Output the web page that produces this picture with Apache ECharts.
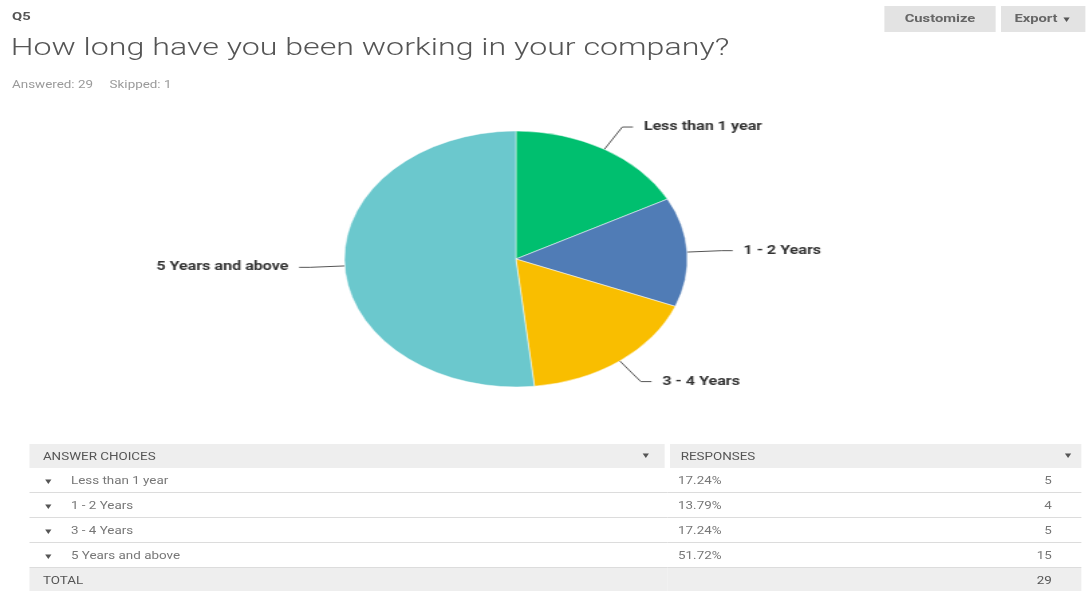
<!DOCTYPE html>
<html>
<head>
<meta charset="utf-8">
<script src="https://cdn.jsdelivr.net/npm/echarts@6/dist/echarts.min.js"></script>
<style>
  html, body { margin: 0; padding: 0; background: #fff; overflow: hidden; }
  body { width: 1086px; height: 591px; font-family: Roboto, "Open Sans", Arial, sans-serif; }
  /* the reference screenshot is stretched sideways, so the whole page is too */
  #page { position: absolute; left: 0; top: 0; width: 810px; height: 591px; transform: scaleX(1.34); transform-origin: 0 0; }
  .abs { position: absolute; white-space: nowrap; }
  #qnum { left: 9px; top: 10px; font-size: 11px; font-weight: bold; color: #555; }
  #title { left: 8px; top: 33px; font-size: 24px; font-weight: 300; color: #555; }
  #meta { left: 9px; top: 79px; font-size: 10px; color: #9a9a9a; }
  .btn { top: 6px; height: 26px; line-height: 26px; background: #e3e3e3; color: #666; font-size: 11px; font-weight: bold; text-align: center; }
  #pie { position: absolute; left: 0; top: 100px; width: 810px; height: 330px; }
  #tbl { position: absolute; left: 22px; top: 444px; width: 785px; border-collapse: collapse; font-size: 10px; color: #777; }
  #tbl td { height: 24px; padding: 0; border-bottom: 1px solid #dcdcdc; }
  #tbl tr.hd td, #tbl tr.ft td { background: #eeeeee; color: #555; border-bottom: none; }
  #tbl tr.hd td { border-right: 4px solid #fff; }
  #tbl tr.hd td:last-child { border-right: none; }
  .car { font-size: 8px; color: #555; }
</style>
</head>
<body>
<div id="page">
  <div id="qnum" class="abs">Q5</div>
  <div id="title" class="abs">How long have you been working in your company?</div>
  <div id="meta" class="abs">Answered: 29&nbsp;&nbsp;&nbsp;&nbsp;&nbsp;Skipped: 1</div>
  <div class="abs btn" style="left:660px;width:83px;">Customize</div>
  <div class="abs btn" style="left:747px;width:63px;">Export <span class="car">&#9660;</span></div>
  <div id="pie"></div>
  <table id="tbl"></table>
</div>
<script>
const choices = ['Less than 1 year', '1 - 2 Years', '3 - 4 Years', '5 Years and above'];
const counts = [5, 4, 5, 15];
const percents = ['17.24%', '13.79%', '17.24%', '51.72%'];
const total = 29;
const colors = ['#00bf6f', '#507cb6', '#f9be00', '#6bc8cd'];

// table under the pie
let rows = '<tr class="hd"><td style="width:464px;padding-left:10px;">ANSWER CHOICES' +
  '<span class="car" style="float:right;margin-right:10px;">&#9660;</span></td>' +
  '<td style="padding-left:8px;">RESPONSES<span class="car" style="float:right;margin-right:6px;">&#9660;</span></td></tr>';
choices.forEach(function (c, i) {
  rows += '<tr><td><span class="car" style="margin-left:10px;margin-right:13px;">&#9660;</span>' + c + '</td>' +
    '<td style="padding-left:8px;">' + percents[i] +
    '<span style="float:right;margin-right:22px;">' + counts[i] + '</span></td></tr>';
});
rows += '<tr class="ft"><td style="padding-left:10px;">TOTAL</td><td style="text-align:right;padding-right:22px;">' + total + '</td></tr>';
document.getElementById('tbl').innerHTML = rows;

let chartDom = document.getElementById('pie');
let myChart = echarts.init(chartDom);
let option;

option = {
  animation: false,
  color: colors,
  series: [
    {
      type: 'pie',
      center: [385, 159],
      radius: 128,
      startAngle: 90,
      clockwise: true,
      data: choices.map(function (c, i) { return { name: c, value: counts[i] }; }),
      itemStyle: {
        borderColor: '#ffffff',
        borderWidth: 0.5
      },
      label: {
        show: true,
        formatter: '{b}',
        color: '#333',
        fontSize: 12,
        fontWeight: 'bold',
        fontFamily: 'Roboto',
        distanceToLabelLine: 8
      },
      labelLine: {
        show: true,
        length: 26,
        length2: 8,
        lineStyle: { color: '#555', width: 1 }
      }
    }
  ]
};

option && myChart.setOption(option);
</script>
</body>
</html>
